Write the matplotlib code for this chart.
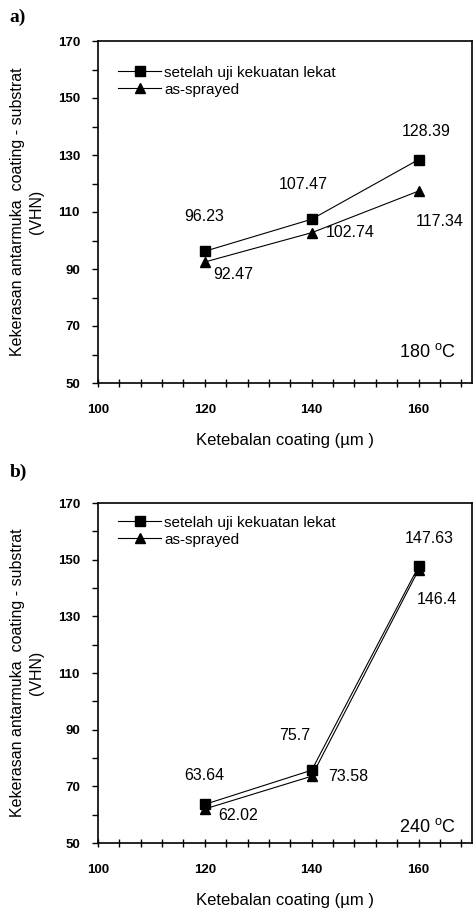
import matplotlib
matplotlib.use("Agg")
import matplotlib.pyplot as plt
from matplotlib.ticker import MultipleLocator

# ============================================================
# DATA
# ============================================================

thickness = [120, 140, 160]

a_setelah = [96.23, 107.47, 128.39]
a_sprayed = [92.47, 102.74, 117.34]

b_setelah = [63.64, 75.7, 147.63]
b_sprayed = [62.02, 73.58, 146.4]

label_setelah = "setelah uji kekuatan lekat"
label_sprayed = "as-sprayed"

y_label = "Kekerasan antarmuka  coating - substrat\n(VHN)"
x_label = "Ketebalan coating (\u00b5m )"

# label offsets in pixels (setelah, sprayed)
a_off_setelah = [(-1, 35), (-8, 35), (8, 28)]
a_off_sprayed = [(28, -13), (38, 0), (21, -30)]
b_off_setelah = [(-1, 29), (-17, 35), (11, 28)]
b_off_sprayed = [(33, -7), (36, 0), (18, -30)]

plt.rcParams["font.family"] = ["Liberation Sans", "DejaVu Sans"]

fig = plt.figure(figsize=(4.74, 9.09), dpi=100)

W, H = 474, 909


def make_axes(top_px, bottom_px):
    return fig.add_axes([98 / W, 1 - bottom_px / H, 374 / W, (bottom_px - top_px) / H])


def draw_panel(ax, setelah, sprayed, off_s, off_p, temp, temp_y, leg_y):

    ax.plot(thickness, setelah, color="black", lw=0.8, marker="s",
            markersize=7.5, label=label_setelah)
    ax.plot(thickness, sprayed, color="black", lw=0.8, marker="^",
            markersize=7, label=label_sprayed)

    for x, v, o in zip(thickness, setelah, off_s):
        ax.annotate(f"{v:g}", (x, v), xytext=o, textcoords="offset pixels",
                    ha="center", va="center", fontsize=11.5)
    for x, v, o in zip(thickness, sprayed, off_p):
        ax.annotate(f"{v:g}", (x, v), xytext=o, textcoords="offset pixels",
                    ha="center", va="center", fontsize=11.5)

    ax.text(0.88, temp_y, temp + r" $^{\mathregular{o}}$C", transform=ax.transAxes,
            ha="center", va="center", fontsize=13)

    ax.set_xlim(100, 170)
    ax.set_ylim(50, 170)

    ax.xaxis.set_minor_locator(MultipleLocator(4))
    ax.yaxis.set_minor_locator(MultipleLocator(10))
    ax.set_xticks([100, 120, 140, 160])
    ax.set_yticks([50, 70, 90, 110, 130, 150, 170])

    ax.tick_params(axis="x", which="both", direction="inout", length=6,
                   width=1, top=False, pad=12, labelsize=9.5)
    ax.tick_params(axis="y", which="both", direction="out", length=4,
                   width=1, right=False, pad=9, labelsize=9.5)
    for lab in ax.get_xticklabels() + ax.get_yticklabels():
        lab.set_fontweight("bold")

    for sp in ax.spines.values():
        sp.set_linewidth(1.2)

    ax.set_xlabel(x_label, fontsize=12, labelpad=12)
    ax.text(-0.19, 0.5, y_label, transform=ax.transAxes, rotation=90,
            ha="center", va="center", fontsize=11.5, multialignment="center",
            linespacing=1.3)

    ax.legend(loc="upper left", bbox_to_anchor=(0.03, leg_y), frameon=False,
              fontsize=11, handlelength=2.8, handletextpad=0.2,
              labelspacing=0.2, borderaxespad=0.2)


ax_a = make_axes(41, 383)
draw_panel(ax_a, a_setelah, a_sprayed, a_off_setelah, a_off_sprayed,
           "180", 0.09, 0.955)

ax_b = make_axes(503, 843)
draw_panel(ax_b, b_setelah, b_sprayed, b_off_setelah, b_off_sprayed,
           "240", 0.047, 0.99)

fig.text(18 / W, 1 - 17 / H, "a)", fontsize=14, fontweight="bold",
         family="Liberation Serif", ha="center", va="center")
fig.text(18 / W, 1 - 472 / H, "b)", fontsize=14, fontweight="bold",
         family="Liberation Serif", ha="center", va="center")

fig.savefig("out.png", dpi=100)
